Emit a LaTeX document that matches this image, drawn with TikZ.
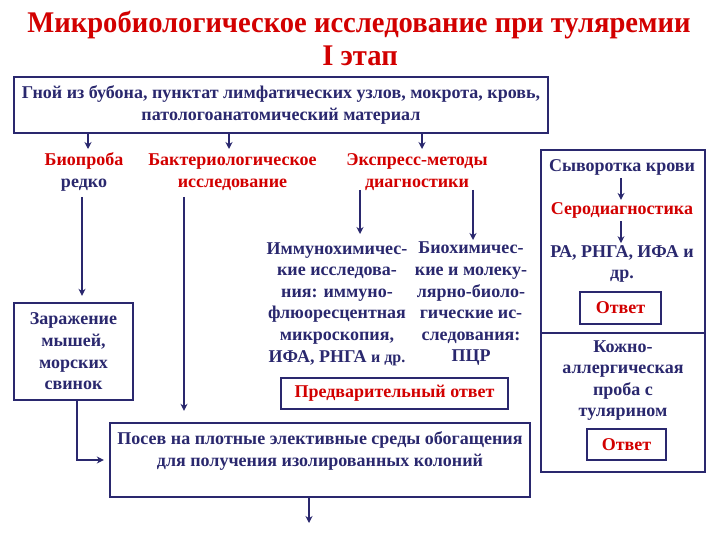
\documentclass[tikz,border=0pt]{standalone}
\usepackage{fontspec}
\setmainfont{Liberation Serif}
\usetikzlibrary{arrows.meta,calc}
\definecolor{navy}{RGB}{42,40,110}
\definecolor{rd}{RGB}{210,0,0}
\tikzset{
  box/.style={draw=navy, line width=2.4pt, inner sep=0pt},
  txt/.style={text=navy, font=\fontsize{18}{21.6}\selectfont\bfseries, align=center, inner sep=0pt},
  rtxt/.style={text=rd, font=\fontsize{18}{21.6}\selectfont\bfseries, align=center, inner sep=0pt},
  ttl/.style={text=rd, font=\fontsize{30}{32}\selectfont\bfseries, inner sep=0pt, anchor=base},
  arr/.style={draw=navy, line width=2.4pt, -{Stealth[length=7pt,width=7pt]}},
  ln/.style={draw=navy, line width=2.4pt}
}
\begin{document}
\begin{tikzpicture}[x=1pt,y=-1pt]
\useasboundingbox (0,0) rectangle (720,540);
% title
\node[ttl] (title) at (359,33) {\scalebox{0.953}[1]{Микробиологическое исследование при туляремии}};
\node[ttl] (stage) at (360,66) {\scalebox{0.953}[1]{I этап}};
% source
\node[box, minimum width=534pt, minimum height=56pt] (src) at (281,105) {};
\node[txt] (srct) at (src.center) {Гной из бубона, пунктат лимфатических узлов, мокрота, кровь,\\патологоанатомический материал};
% branches
\node[txt] (bio) at (84,172) {\textcolor{rd}{Биопроба}\\редко};
\node[rtxt] (bact) at (232.5,172) {Бактериологическое\\исследование};
\node[rtxt] (expr) at (417,172) {Экспресс-методы\\диагностики};
\coordinate (t1) at (88,149);
\coordinate (t2) at (229,149);
\coordinate (t3) at (422,149);
\draw[arr] (src.south -| t1) -- (t1);
\draw[arr] (src.south -| t2) -- (t2);
\draw[arr] (src.south -| t3) -- (t3);
% zarazhenie
\node[box, minimum width=119pt, minimum height=97pt] (zar) at (73.5,351.5) {};
\node[txt] (zart) at (zar.center) {Заражение\\мышей,\\морских\\свинок};
\coordinate (b1) at (82,197);
\draw[arr, shorten >=6pt] (b1) -- (b1 |- zar.north);
% posev
\node[box, minimum width=420pt, minimum height=74pt] (posev) at (320,460) {};
\node[txt] (posevt) at (posev.center) {Посев на плотные элективные среды обогащения\\для получения изолированных колоний\\\mbox{}};
\coordinate (b2) at (184,197);
\draw[arr, shorten >=11pt] (b2) -- (b2 |- posev.north);
\draw[arr, shorten >=5pt] ([xshift=3.5pt]zar.south) |- (posev.west);
\coordinate (out) at (309,523);
\draw[arr] (posev.south -| out) -- (out);
% express
\node[txt] (imm) at (337,304) {Иммунохимичес-\\кие исследова-\\ния: иммуно-\\флюоресцентная\\микроскопия,\\ИФА, РНГА {\fontsize{16}{21.6}\selectfont и др.}};
\node[txt] (bioch) at (471,304) {Биохимичес-\\кие и молеку-\\лярно-биоло-\\гические ис-\\следования:\\ПЦР};
\coordinate (e1) at (360,190);
\coordinate (e2) at (473,190);
\draw[arr] (e1) -- (e1 |- 0,234);
\draw[arr] (e2) -- (e2 |- 0,240);
\node[box, minimum width=227pt, minimum height=31pt] (pre) at (394.5,393.5) {};
\node[rtxt] (pret) at (pre.center) {Предварительный ответ};
% right column
\node[box, minimum width=164pt, minimum height=183pt] (r1) at (623,241.5) {};
\node[box, minimum width=164pt, minimum height=139pt] (r2) at (623,402.5) {};
\node[txt] (syv) at (622,167) {Сыворотка крови};
\node[rtxt] (sero) at (622,210) {Серодиагностика};
\node[txt] (ra) at (622,264) {РА, РНГА, ИФА и\\др.};
\draw[arr, shorten <=3pt, shorten >=2pt] (syv.south -| 621,0) -- (sero.north -| 621,0);
\draw[arr, shorten <=3pt, shorten >=2pt] (sero.south -| 621,0) -- (ra.north -| 621,0);
\node[box, minimum width=81pt, minimum height=32pt] (ans1) at (620.5,308) {};
\node[rtxt] (ans1t) at (ans1.center) {Ответ};
\node[txt] (kozh) at (623,380.5) {Кожно-\\аллергическая\\проба с\\тулярином};
\node[box, minimum width=79pt, minimum height=31pt] (ans2) at (626.5,444.5) {};
\node[rtxt] (ans2t) at (ans2.center) {Ответ};
\end{tikzpicture}
\end{document}
